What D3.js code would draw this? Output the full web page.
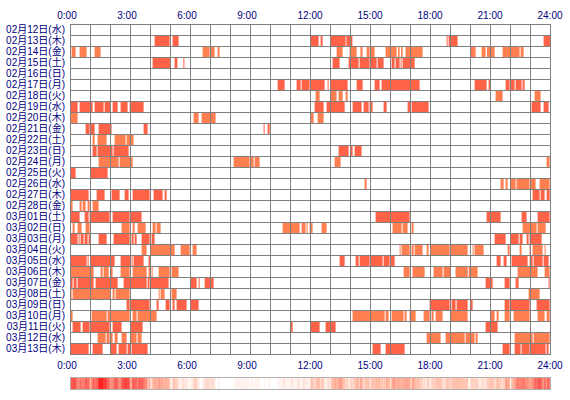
<!DOCTYPE html>
<html><head><meta charset="utf-8">
<script src="https://cdn.jsdelivr.net/npm/d3@7"></script>
<style>body{margin:0;background:#fff}svg{display:block}</style>
</head><body><svg id="c" width="570" height="400"></svg>
<script>
const days = ["02月12日(水)","02月13日(木)","02月14日(金)","02月15日(土)","02月16日(日)","02月17日(月)","02月18日(火)","02月19日(水)","02月20日(木)","02月21日(金)","02月22日(土)","02月23日(日)","02月24日(月)","02月25日(火)","02月26日(水)","02月27日(木)","02月28日(金)","03月01日(土)","03月02日(日)","03月03日(月)","03月04日(火)","03月05日(水)","03月06日(木)","03月07日(金)","03月08日(土)","03月09日(日)","03月10日(月)","03月11日(火)","03月12日(水)","03月13日(木)"];
const hourTicks = [0,3,6,9,12,15,18,21,24];
const tickLabels = ["0:00","3:00","6:00","9:00","12:00","15:00","18:00","21:00","24:00"];
const rowColors = ["#ff7f50","#ff6347"];
const sessions = [
 [],
 [[4.23,4.98],[5.13,5.43],[12.02,12.43],[12.53,12.63],[13.03,13.78],[13.82,14.12],[18.83,18.88],[18.93,19.38],[23.68,24]],
 [[0.08,0.28],[0.48,0.83],[1.23,1.53],[6.63,6.98],[7.03,7.23],[7.38,7.48],[13.33,13.63],[13.98,14.33],[14.52,14.63],[14.83,14.98],[15.03,15.23],[15.78,16.33],[16.40,16.48],[16.55,16.63],[16.78,17.63],[20.03,20.28],[20.58,20.78],[20.85,21.23],[21.63,22.0],[22.03,22.48],[22.53,22.68]],
 [[4.13,5.05],[5.23,5.37],[5.67,5.72],[13.13,13.48],[13.93,14.43],[14.48,14.98],[15.03,15.33],[15.38,15.68],[16.08,16.23],[16.28,16.48],[16.53,16.58],[16.63,17.23]],
 [],
 [[10.38,10.73],[11.33,11.53],[11.58,11.98],[12.0,12.73],[12.88,12.93],[13.03,13.88],[14.33,14.63],[15.23,15.48],[15.58,16.0],[16.03,17.48],[20.23,20.83],[20.93,21.03],[21.78,21.98],[22.03,22.23],[22.28,22.58],[22.63,22.73]],
 [[12.28,12.48],[13.03,13.33],[13.43,13.63],[13.78,13.88],[21.28,21.63],[23.23,23.53]],
 [[0.03,0.38],[0.48,1.13],[1.23,1.68],[1.73,2.03],[2.13,2.38],[2.53,2.88],[2.98,3.68],[12.23,12.68],[12.83,13.73],[14.13,14.58],[14.68,14.93],[14.98,15.13],[15.68,15.83],[16.88,17.03],[17.08,17.93],[23.08,23.53],[23.68,23.93]],
 [[0.03,0.38],[6.18,6.43],[6.58,7.28],[12.03,12.18],[12.38,12.68]],
 [[0.78,0.98],[1.03,1.23],[1.43,2.08],[3.68,3.88],[9.68,9.73],[9.88,9.98]],
 [[1.13,1.23],[1.38,1.83],[2.23,2.78],[2.83,3.18]],
 [[1.13,1.33],[1.38,2.13],[2.18,2.93],[13.43,13.93],[14.03,14.13],[14.23,14.58]],
 [[1.43,2.43],[2.48,3.13],[8.18,8.98],[9.03,9.18],[9.23,9.48],[13.23,13.53],[23.83,23.98]],
 [[0.03,0.28],[1.03,1.88]],
 [[14.73,14.83],[21.53,21.68],[21.78,21.88],[22.03,22.28],[22.33,22.98],[23.03,23.28],[23.48,23.98]],
 [[0.03,0.93],[1.33,1.73],[2.08,2.48],[2.73,2.93],[3.13,3.98],[4.18,4.63],[4.73,4.83],[23.13,23.48],[23.53,23.73],[23.83,23.98]],
 [[0.03,0.13],[0.48,0.58],[0.63,0.78],[0.88,0.98],[1.13,1.43]],
 [[0.03,0.48],[0.73,0.93],[0.98,1.98],[2.13,2.98],[3.03,3.58],[15.28,16.98],[20.83,21.53],[22.58,22.83],[23.38,23.98]],
 [[0.13,0.23],[0.38,0.58],[0.78,0.98],[2.58,2.98],[3.13,3.23],[3.38,3.78],[4.13,4.28],[4.33,4.53],[10.63,11.48],[11.58,11.78],[11.83,11.88],[11.98,12.13],[12.58,12.83],[16.13,16.58],[16.63,16.88],[17.08,17.18],[22.63,23.33],[23.38,23.78]],
 [[0.03,0.38],[0.43,0.48],[0.53,0.68],[0.73,0.88],[0.93,1.03],[1.43,1.83],[2.18,2.98],[3.08,3.18],[3.23,3.33],[3.58,3.98],[4.08,4.23],[21.23,21.78],[22.03,22.43],[22.48,22.63],[22.83,22.93],[22.98,23.58]],
 [[3.58,3.83],[4.03,5.23],[5.53,5.98],[6.13,6.33],[16.48,16.53],[16.58,16.98],[17.08,17.18],[17.23,17.63],[17.83,17.93],[18.03,18.98],[19.03,19.88],[20.13,20.18],[20.23,20.68],[21.88,21.98],[22.48,22.58],[22.98,23.03],[23.13,23.63],[23.73,23.78]],
 [[0.03,0.83],[0.88,0.93],[1.03,2.23],[2.53,3.03],[3.08,3.13],[3.18,3.68],[3.93,4.03],[13.48,13.73],[14.28,14.43],[14.48,14.98],[15.03,15.63],[15.68,15.98],[16.03,16.23],[21.33,21.53],[21.68,21.83],[22.08,22.88],[22.98,23.13],[23.18,23.63],[23.68,23.93]],
 [[0.03,1.18],[1.53,1.63],[1.68,1.93],[2.03,2.13],[2.53,2.98],[3.13,3.83],[3.93,4.03],[4.08,4.13],[4.43,4.98],[5.08,5.43],[16.68,16.98],[17.13,17.73],[18.18,18.63],[18.68,19.03],[19.28,19.88],[19.93,20.38],[22.38,23.38],[23.73,23.98]],
 [[0.03,0.13],[0.18,0.33],[0.38,1.18],[1.28,2.38],[2.68,3.83],[3.88,3.98],[4.03,4.93],[6.03,6.33],[6.43,6.48],[6.73,7.18],[20.78,21.13],[21.73,21.98],[22.28,22.43],[23.93,23.98]],
 [[0.03,0.08],[0.13,2.03],[2.13,2.23],[2.28,2.98],[4.43,4.48],[4.53,4.73],[5.08,5.33],[22.93,23.48]],
 [[2.83,2.98],[3.03,3.98],[4.33,4.43],[4.78,4.98],[5.13,5.23],[5.33,5.83],[6.03,6.43],[17.98,18.98],[19.08,19.28],[19.33,19.88],[20.03,20.13],[21.73,21.98],[22.03,22.98],[23.33,23.98]],
 [[0.03,0.13],[1.08,1.83],[1.88,2.98],[3.13,3.33],[3.38,4.33],[14.13,15.73],[15.78,15.93],[16.08,16.68],[16.73,16.83],[16.98,17.28],[17.68,17.98],[18.08,18.18],[18.28,18.63],[19.03,19.88],[21.03,21.23],[21.33,21.43],[21.73,21.98],[22.18,22.98],[23.38,23.73],[23.83,23.98]],
 [[0.13,0.53],[0.63,0.98],[1.03,1.98],[2.13,2.58],[3.03,3.63],[11.03,11.13],[12.03,12.48],[12.78,13.28],[20.78,21.38]],
 [[1.38,1.78],[1.83,1.98],[2.03,2.13],[2.23,2.38],[2.58,2.83],[3.03,3.33],[3.38,3.58],[17.83,18.53],[18.78,19.73],[19.78,20.23],[20.28,20.38],[22.23,23.13],[23.18,23.98]],
 [[0.03,0.93],[1.13,1.63],[2.03,2.33],[2.43,2.83],[2.88,3.03],[3.08,3.88],[15.13,15.53],[15.78,16.73],[21.63,21.98],[22.23,22.53],[22.58,22.98],[23.03,23.78],[23.83,23.93]]
];

const L = 70, R = 550, T = 24, rowH = 11;
const svg = d3.select("#c");
const x = d3.scaleLinear().domain([0, 24]).range([L, R]);
const y = d3.scaleBand().domain(days).range([T, T + rowH * days.length]).padding(0);
const font = "'Liberation Sans', Arial, 'Noto Sans CJK JP', sans-serif";
const navy = "#000080";

// bars
const bars = [];
sessions.forEach((segs, i) => segs.forEach(s => bars.push({day: days[i], i, s: s[0], e: s[1]})));
svg.append("g").selectAll("rect").data(bars).join("rect")
  .attr("x", d => x(d.s)).attr("width", d => Math.max(1, x(d.e) - x(d.s)))
  .attr("y", d => y(d.day)).attr("height", y.bandwidth())
  .attr("fill", d => rowColors[d.i % 2]);

// grid
const g = svg.append("g").attr("stroke", "#808080").attr("stroke-width", 1).attr("shape-rendering", "crispEdges");
g.selectAll("line.v").data(d3.range(0, 25)).join("line")
  .attr("x1", d => Math.round(x(d)) + 0.5).attr("x2", d => Math.round(x(d)) + 0.5)
  .attr("y1", T).attr("y2", T + rowH * days.length);
g.selectAll("line.h").data(d3.range(0, days.length + 1)).join("line")
  .attr("x1", L).attr("x2", R + 1)
  .attr("y1", d => T + d * rowH + 0.5).attr("y2", d => T + d * rowH + 0.5);

// day labels
svg.append("g").selectAll("text").data(days).join("text")
  .attr("x", 65).attr("y", d => y(d) + 9)
  .attr("text-anchor", "end").attr("font-family", font).attr("font-size", 10).attr("fill", navy)
  .text(d => d);

// hour labels top & bottom
[19, 369].forEach(yy => {
  svg.append("g").selectAll("text").data(hourTicks).join("text")
    .attr("x", (d, i) => x(d) - (tickLabels[i].length === 4 ? 3 : 0))
    .attr("y", yy).attr("text-anchor", "middle")
    .attr("font-family", font).attr("font-size", 10).attr("fill", navy)
    .text((d, i) => tickLabels[i]);
});

// density bar
const slots = 480;
const counts = d3.range(slots).map(k => {
  const t = (k + 0.5) * 24 / slots;
  return sessions.reduce((acc, segs) => acc + (segs.some(s => t >= s[0] && t < s[1]) ? 1 : 0), 0);
});
const maxC = d3.max(counts);
const col = d3.scaleLinear().domain([0, maxC * 0.35, maxC]).range(["#ffffff", "#ffb8a0", "#ff2020"]);
const cb = svg.append("g");
cb.selectAll("rect").data(counts).join("rect")
  .attr("x", (d, k) => x(k * 24 / slots)).attr("width", (R - L) / slots + 0.3)
  .attr("y", 377).attr("height", 12)
  .attr("fill", d => col(d));
cb.append("rect").attr("x", L + 0.5).attr("y", 377.5).attr("width", R - L).attr("height", 12)
  .attr("fill", "none").attr("stroke", "#b0b0b0");
</script></body></html>
